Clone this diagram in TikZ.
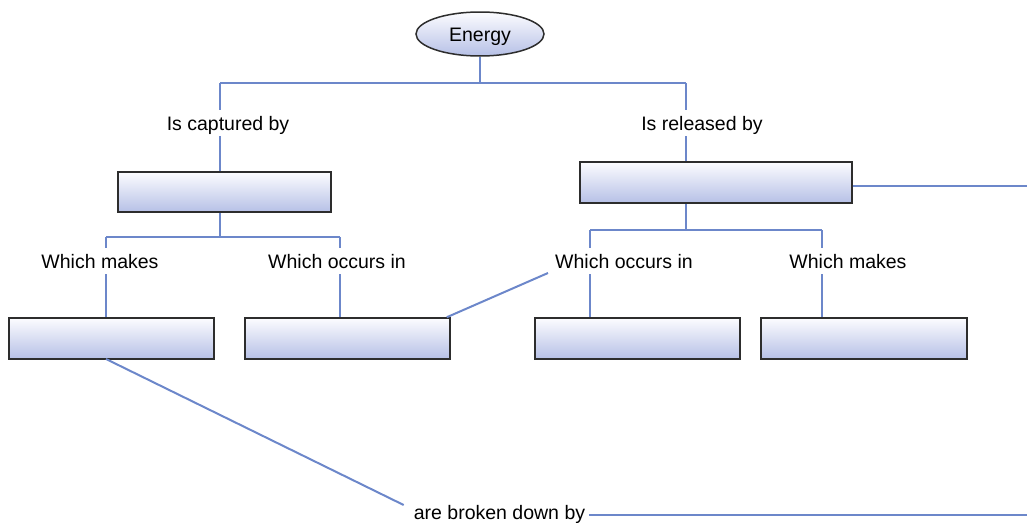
\documentclass[tikz,border=0pt]{standalone}
\usepackage{fontspec}
\setmainfont{Liberation Sans}
\usetikzlibrary{shapes.geometric,calc}
\definecolor{wire}{RGB}{108,135,202}
\definecolor{boxline}{RGB}{45,45,45}
\definecolor{shadebot}{RGB}{182,192,230}
\definecolor{shadetop}{RGB}{252,252,255}
\tikzset{
  wire/.style={draw=wire,line width=2pt},
  stepbox/.style={rectangle,draw=boxline,line width=1.5pt,top color=shadetop,bottom color=shadebot,inner sep=0pt},
  ell/.style={ellipse,draw=boxline,line width=1.5pt,top color=shadetop,bottom color=shadebot,minimum width=128pt,minimum height=44pt,inner sep=0pt,font=\fontsize{19.5}{22}\selectfont,text height=14pt,text depth=0pt},
  lab/.style={inner xsep=4pt,inner ysep=6pt,font=\fontsize{19.5}{22}\selectfont,text height=14pt,text depth=0pt}
}
\begin{document}
\begin{tikzpicture}[x=1pt,y=-1pt]
\useasboundingbox (0,0) rectangle (1027,522);
\node[ell] (energy) at (480,34) {Energy};
\node[lab] (cap) at (228,123) {Is captured by};
\node[lab] (rel) at (702,123) {Is released by};
\node[stepbox,minimum width=213pt,minimum height=40pt] (b1) at (224.5,192) {};
\node[stepbox,minimum width=272pt,minimum height=41pt] (b2) at (716,182.5) {};
\node[lab] (wm1) at (100,261) {Which makes};
\node[lab] (wo1) at (337,261) {Which occurs in};
\node[lab] (wo2) at (624,261) {Which occurs in};
\node[lab] (wm2) at (848,261) {Which makes};
\node[stepbox,minimum width=205pt,minimum height=41pt] (l1) at (111.5,338.5) {};
\node[stepbox,minimum width=205pt,minimum height=41pt] (l2) at (347.5,338.5) {};
\node[stepbox,minimum width=205pt,minimum height=41pt] (r1) at (637.5,338.5) {};
\node[stepbox,minimum width=206pt,minimum height=41pt] (r2) at (864,338.5) {};
\node[lab] (brk) at (499.5,512) {are broken down by};
% junction coordinates
\coordinate (j0) at (480,83);
\coordinate (jl) at (220,83);
\coordinate (jr) at (686,83);
\coordinate (k0) at (220,237);
\coordinate (kl) at (106,237);
\coordinate (kr) at (340,237);
\coordinate (m0) at (686,230);
\coordinate (ml) at (590,230);
\coordinate (mr) at (822,230);
\coordinate (rend) at (1027,186);
\coordinate (bend) at (1027,515);
\coordinate (l1s) at (106,359);
% top tree
\draw[wire] (energy.south) -- (j0);
\draw[wire] (jl) -- (jr);
\draw[wire] (jl) -- (cap.north -| jl);
\draw[wire] (cap.south -| jl) -- (b1.north -| jl);
\draw[wire] (jr) -- (rel.north -| jr);
\draw[wire] (rel.south -| jr) -- (b2.north -| jr);
% left subtree
\draw[wire] (b1.south -| k0) -- (k0);
\draw[wire] (kl) -- (kr);
\draw[wire] (kl) -- (wm1.north -| kl);
\draw[wire] (kr) -- (wo1.north -| kr);
\draw[wire] (wm1.south -| kl) -- (l1.north -| kl);
\draw[wire] (wo1.south -| kr) -- (l2.north -| kr);
% right subtree
\draw[wire] (b2.south -| m0) -- (m0);
\draw[wire] (ml) -- (mr);
\draw[wire] (ml) -- (wo2.north -| ml);
\draw[wire] (mr) -- (wm2.north -| mr);
\draw[wire] (wo2.south -| ml) -- (r1.north -| ml);
\draw[wire] (wm2.south -| mr) -- (r2.north -| mr);
% extra connectors
\draw[wire] (b2.east |- rend) -- (rend);
\draw[wire] ($(l2.north east)+(-4,0)$) -- ($(wo2.west)+(-3,12)$);
\draw[wire] (l1s) -- ($(brk.west)+(-6,-7)$);
\draw[wire] (brk.east |- bend) -- (bend);
\end{tikzpicture}
\end{document}
